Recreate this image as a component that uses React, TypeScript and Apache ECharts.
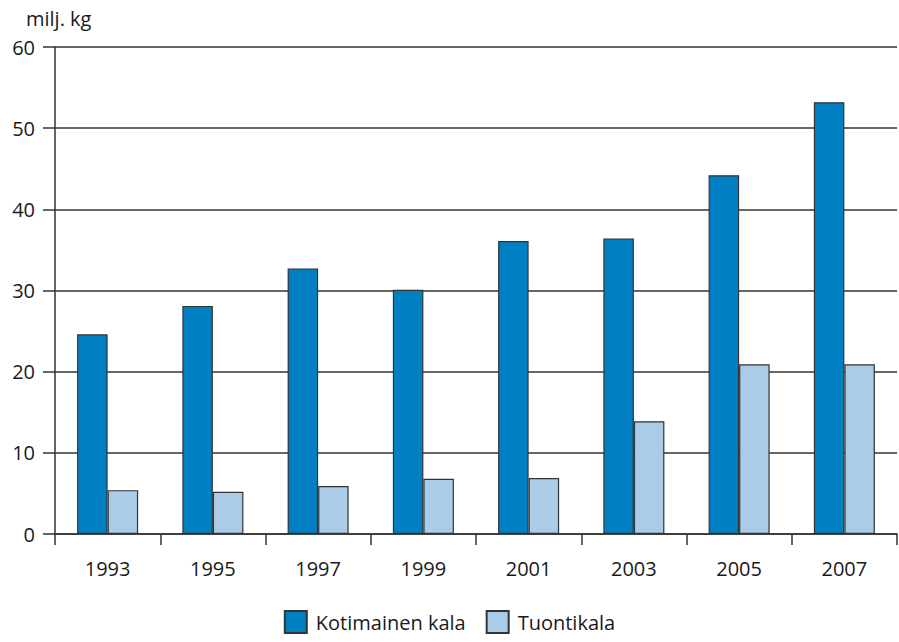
import React, { useEffect, useRef } from "react";
import * as echarts from "echarts";

const years = ["1993", "1995", "1997", "1999", "2001", "2003", "2005", "2007"];
const kotimainen = [24.6, 28.1, 32.7, 30.1, 36.1, 36.4, 44.2, 53.2];
const tuonti = [5.4, 5.2, 5.9, 6.8, 6.9, 13.9, 20.9, 20.9];
const yTicks = [0, 10, 20, 30, 40, 50, 60];

const FONT = "'Open Sans', 'Noto Sans', sans-serif";

export default function App() {
  const ref = useRef<HTMLDivElement>(null);
  useEffect(() => {
    if (!ref.current) return;
    const chart = echarts.init(ref.current, undefined, { renderer: "svg" });
    chart.setOption({
      animation: false,
      textStyle: { fontFamily: FONT },
      grid: { left: 55, right: 2, top: 47, bottom: 108, containLabel: false },
      title: {
        text: "milj. kg",
        left: 21,
        top: 3,
        textStyle: { fontFamily: FONT, fontSize: 20, fontWeight: "normal", color: "#1a1a1a" },
      },
      legend: {
        bottom: 3,
        left: "center",
        itemWidth: 22,
        itemHeight: 22,
        itemGap: 20,
        icon: "rect",
        textStyle: { fontFamily: FONT, fontSize: 20, color: "#1a1a1a", padding: [0, 0, 0, 4] },
        data: ["Kotimainen kala", "Tuontikala"],
      },
      xAxis: {
        type: "category",
        data: years,
        boundaryGap: true,
        axisLine: { lineStyle: { color: "#333", width: 1.5 } },
        axisTick: { show: true, length: 11, alignWithLabel: false, lineStyle: { color: "#333", width: 1.5 } },
        axisLabel: { fontFamily: FONT, fontSize: 20, color: "#1a1a1a", margin: 24 },
      },
      yAxis: {
        type: "value",
        min: 0,
        max: 60,
        interval: 10,
        axisLine: { show: true, lineStyle: { color: "#333", width: 1.5 } },
        axisTick: { show: true, length: 12, lineStyle: { color: "#333", width: 1.5 } },
        axisLabel: {
          fontFamily: FONT,
          fontSize: 20,
          color: "#1a1a1a",
          margin: 20,
          formatter: (v: number) => (yTicks.includes(v) ? String(v) : ""),
        },
        splitLine: { show: true, lineStyle: { color: "#333", width: 1.5 } },
      },
      series: [
        {
          name: "Kotimainen kala",
          type: "bar",
          data: kotimainen,
          barGap: "0%",
          barCategoryGap: "42%",
          itemStyle: { color: "#0080C3", borderColor: "#333", borderWidth: 1.2 },
        },
        {
          name: "Tuontikala",
          type: "bar",
          data: tuonti,
          barGap: "0%",
          barCategoryGap: "42%",
          itemStyle: { color: "#AACCE8", borderColor: "#333", borderWidth: 1.2 },
        },
      ],
    });
    return () => chart.dispose();
  }, []);
  return <div ref={ref} style={{ width: 899, height: 642, position: "absolute", left: 0, top: 0 }} />;
}
